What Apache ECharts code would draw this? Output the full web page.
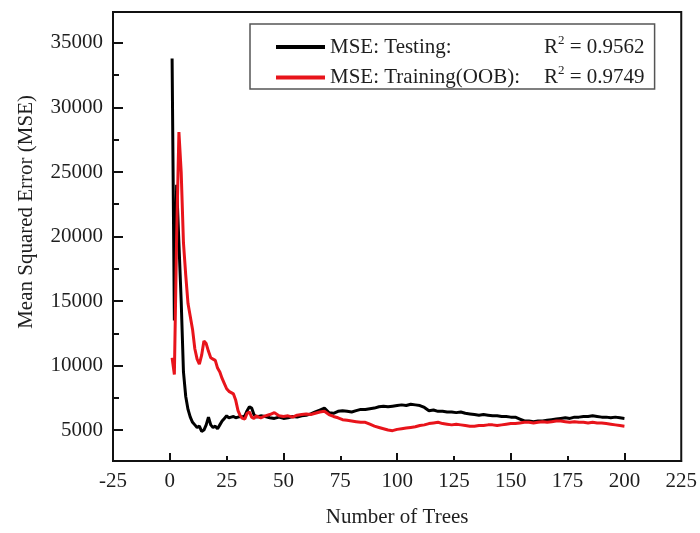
<!DOCTYPE html>
<html>
<head>
<meta charset="utf-8">
<script src="https://cdn.jsdelivr.net/npm/echarts@6/dist/echarts.min.js"></script>
<style>
html,body{margin:0;padding:0;background:#fff;}
#chart{width:700px;height:533px;}
</style>
</head>
<body>
<div id="chart"></div>
<script>
// Number of trees (x) and MSE values
var treesTest = [1,2,3,4,5,6,7,8,9,10,11,12,13,14,15,16,17,18,19,20,21,22,23,24,25,26,27,28,29,30,31,32,33,34,35,36,37,38,39,40,
  42,44,46,48,50,52,54,56,58,60,62,64,66,68,70,72,74,76,78,80,82,84,86,88,90,92,94,96,98,100,
  102,104,106,108,110,112,114,116,118,120,122,124,126,128,130,132,134,136,138,140,142,144,146,148,150,
  152,154,156,158,160,162,164,166,168,170,172,174,176,178,180,182,184,186,188,190,192,194,196,198,200];
var mseTesting = [33800,13500,24000,19500,15000,9500,7600,6600,6000,5600,5400,5200,5300,4900,5000,5400,6000,5400,5200,5300,5100,5400,5700,5900,6100,5950,6000,6050,5950,6000,6050,6000,6100,6500,6800,6700,6200,6000,6050,6100,
  6050,5950,5900,6000,5900,5950,6050,6000,6100,6150,6250,6400,6550,6700,6350,6300,6450,6500,6450,6400,6500,6600,6600,6650,6700,6800,6850,6800,6850,6900,
  6950,6900,7000,6950,6900,6750,6500,6550,6450,6450,6400,6400,6350,6400,6300,6250,6200,6150,6200,6150,6100,6100,6050,6050,6000,
  6000,5850,5700,5700,5650,5700,5700,5750,5800,5850,5900,5950,5900,6000,6000,6050,6050,6100,6050,6000,6000,5950,6000,5950,5900];
var treesTrain = treesTest;
var mseTraining = [10600,9300,20000,28100,25000,19500,17000,14800,13800,12800,11300,10500,10100,10800,11900,11700,11100,10600,10500,10400,9800,9500,9000,8600,8200,8000,7900,7800,7300,6500,6100,5900,5850,6300,6400,6000,5900,6100,6000,5950,
  6100,6200,6350,6100,6050,6100,6000,6150,6200,6250,6200,6300,6400,6450,6200,6050,5950,5800,5750,5700,5650,5600,5600,5450,5300,5200,5100,5000,4950,5050,
  5100,5150,5200,5250,5350,5400,5500,5550,5600,5500,5450,5400,5450,5400,5350,5300,5300,5350,5350,5400,5400,5350,5400,5450,5500,
  5500,5550,5600,5600,5550,5600,5650,5600,5650,5700,5700,5650,5600,5650,5600,5600,5550,5600,5550,5550,5500,5450,5400,5350,5300];

var seriesNames = ['Testing', 'Training'];
var legendLabels = ['MSE: Testing:', 'MSE: Training(OOB):'];
var r2Values = ['0.9562', '0.9749'];
var xMajorTicks = [0, 50, 100, 150, 200];
var xMinorTicks = [25, 75, 125, 175];
var yMajorTicks = [5000, 10000, 15000, 20000, 25000, 30000, 35000];
var yMinorTicks = [7500, 12500, 17500, 22500, 27500, 32500];

function pairs(xs, ys) { return xs.map(function (x, i) { return [x, ys[i]]; }); }

var FONT = 'Liberation Serif';
var TXT = '#1e1e1e';
var chart = echarts.init(document.getElementById('chart'), null, {renderer: 'canvas'});

var xBase = {type: 'value', min: -25, max: 225, position: 'bottom', splitLine: {show: false}};
var yBase = {type: 'value', min: 2600, max: 37400, position: 'left', splitLine: {show: false}};

chart.setOption({
  animation: false,
  backgroundColor: '#fff',
  grid: {left: 113, right: 16, top: 12, bottom: 71, show: true, borderColor: '#111', borderWidth: 2, backgroundColor: 'transparent'},
  xAxis: [
    Object.assign({}, xBase, {
      interval: 25,
      name: 'Number of Trees', nameLocation: 'middle', nameGap: 46,
      nameTextStyle: {fontFamily: FONT, fontSize: 21, color: TXT},
      axisLine: {onZero: false, lineStyle: {color: '#111', width: 2}},
      axisTick: {show: true, inside: true, length: 8, lineStyle: {color: '#111', width: 2}, customValues: xMajorTicks},
      axisLabel: {fontFamily: FONT, fontSize: 21, color: TXT, margin: 10, showMinLabel: true, showMaxLabel: true,
                  formatter: function (v) { return String(v); }}
    }),
    Object.assign({}, xBase, {
      interval: 25,
      axisLine: {show: false},
      axisTick: {show: true, inside: true, length: 5, lineStyle: {color: '#111', width: 2}, customValues: xMinorTicks},
      axisLabel: {show: false}
    })
  ],
  yAxis: [
    Object.assign({}, yBase, {
      axisLine: {onZero: false, lineStyle: {color: '#111', width: 2}},
      axisTick: {show: true, inside: true, length: 10, lineStyle: {color: '#111', width: 2}, customValues: yMajorTicks},
      axisLabel: {fontFamily: FONT, fontSize: 21, color: TXT, margin: 10, customValues: yMajorTicks,
                  formatter: function (v) { return String(v); }}
    }),
    Object.assign({}, yBase, {
      axisLine: {show: false, onZero: false},
      axisTick: {show: true, inside: true, length: 6, lineStyle: {color: '#111', width: 2}, customValues: yMinorTicks},
      axisLabel: {show: false}
    })
  ],
  legend: {
    orient: 'vertical', left: 250, top: 24,
    padding: [10, 10, 1, 26], itemGap: 7,
    borderColor: '#555', borderWidth: 1.5,
    icon: 'rect', itemWidth: 49, itemHeight: 4, itemStyle: {borderWidth: 0},
    data: seriesNames,
    formatter: function (name) {
      var i = seriesNames.indexOf(name);
      return '{a|' + legendLabels[i] + '}{r|R}{s|2}{v| = ' + r2Values[i] + '}';
    },
    textStyle: {
      fontFamily: FONT, fontSize: 21, color: TXT, padding: [0, 0, 0, 0],
      rich: {
        a: {fontFamily: FONT, fontSize: 21, color: TXT, width: 214, lineHeight: 26},
        r: {fontFamily: FONT, fontSize: 21, color: TXT, lineHeight: 26},
        s: {fontFamily: FONT, fontSize: 13, color: TXT, lineHeight: 26, verticalAlign: 'top', padding: [0, 0, 10, 0]},
        v: {fontFamily: FONT, fontSize: 21, color: TXT, lineHeight: 26}
      }
    }
  },
  graphic: [{
    type: 'text', left: 16, top: 95, rotation: Math.PI / 2,
    style: {text: 'Mean Squared Error (MSE)', font: '21px "Liberation Serif"', fill: TXT}
  }],
  series: [
    {name: seriesNames[0], type: 'line', xAxisIndex: 0, yAxisIndex: 0, showSymbol: false, data: pairs(treesTest, mseTesting),
     lineStyle: {color: '#000', width: 3}, itemStyle: {color: '#000'}},
    {name: seriesNames[1], type: 'line', xAxisIndex: 0, yAxisIndex: 0, showSymbol: false, data: pairs(treesTrain, mseTraining),
     lineStyle: {color: '#e8141b', width: 3}, itemStyle: {color: '#e8141b'}}
  ]
});
</script>
</body>
</html>
